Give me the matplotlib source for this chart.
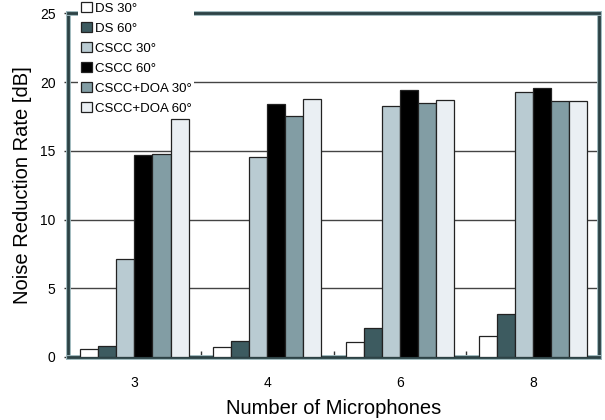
import matplotlib
matplotlib.use("Agg")
import matplotlib.pyplot as plt
import matplotlib.patheffects as pe
import numpy as np

plt.rcParams['font.family'] = ['Liberation Sans', 'DejaVu Sans']

categories = ["3", "4", "6", "8"]
series_names = ["DS 30°", "DS 60°", "CSCC 30°", "CSCC 60°", "CSCC+DOA 30°", "CSCC+DOA 60°"]
ds_30 = [0.6, 0.75, 1.1, 1.5]
ds_60 = [0.8, 1.2, 2.1, 3.1]
cscc_30 = [7.1, 14.55, 18.25, 19.3]
cscc_60 = [14.7, 18.4, 19.45, 19.6]
cscc_doa_30 = [14.8, 17.55, 18.45, 18.65]
cscc_doa_60 = [17.3, 18.8, 18.7, 18.6]
series = [ds_30, ds_60, cscc_30, cscc_60, cscc_doa_30, cscc_doa_60]
colors = ["#ffffff", "#3d5b60", "#b9cbd2", "#000000", "#829da4", "#eaeff3"]
y_ticks = [0, 5, 10, 15, 20, 25]

fig = plt.figure(figsize=(6.05, 4.2), dpi=100)
ax = fig.add_axes([0.1124, 0.15, 0.878, 0.818])

x = np.arange(len(categories))
w = 0.136
for k, (vals, c, name) in enumerate(zip(series, colors, series_names)):
    ax.bar(x + (k - 2.5) * w, vals, w, color=c, edgecolor="#222222",
           linewidth=0.9, label=name, zorder=3)

ax.set_xlim(-0.5, len(categories) - 0.5)
ax.set_ylim(0, 25)
ax.set_yticks(y_ticks)
ax.set_xticks(x)
ax.set_xticklabels(categories)
ax.set_xticks(np.arange(0.5, len(categories) - 0.5, 1), minor=True)
ax.tick_params(axis='x', which='major', length=0, pad=14, labelsize=10)
ax.tick_params(axis='x', which='minor', direction='in', length=4, width=1, color="#333333")
ax.tick_params(axis='y', which='major', direction='out', length=3, width=1, color="#333333",
               labelsize=10, pad=6)

for yv in y_ticks[1:-1]:
    ax.axhline(yv, color="#444444", linewidth=1.0, zorder=1)

for s in ax.spines.values():
    s.set_color("#2c4245")
    s.set_linewidth(2.0)
    s.set_zorder(2)
    s.set_path_effects([pe.Stroke(linewidth=3.5, foreground="#9db7bc"), pe.Normal()])

ax.set_ylabel("Noise Reduction Rate [dB]", fontsize=14.5, labelpad=6)
ax.set_xlabel("Number of Microphones", fontsize=14.5, labelpad=6)

leg = ax.legend(loc='upper left', bbox_to_anchor=(0.012, 1.052), frameon=True,
                facecolor="white", edgecolor="none", framealpha=1.0, fancybox=False,
                fontsize=9.5, handlelength=0.8, handleheight=0.8, handletextpad=0.25,
                labelspacing=0.56, borderpad=0.2, borderaxespad=0.3)
leg.set_zorder(2.8)

fig.savefig("out.png", dpi=100)
